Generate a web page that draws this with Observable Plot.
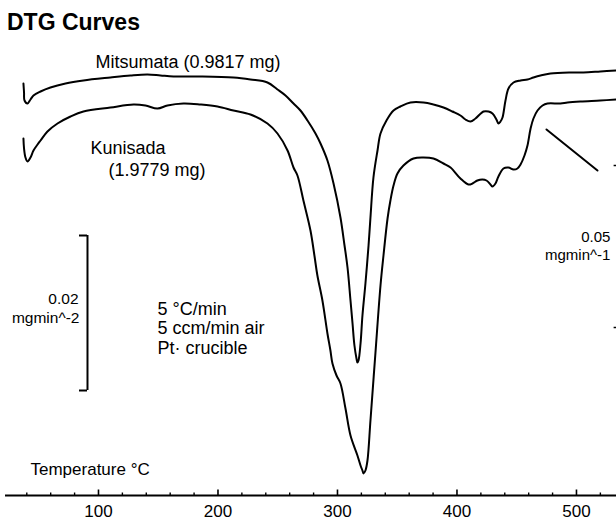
<!DOCTYPE html>
<html>
<head>
<meta charset="utf-8">
<script src="https://cdn.jsdelivr.net/npm/d3@7"></script>
<script src="https://cdn.jsdelivr.net/npm/@observablehq/plot@0.6"></script>
<style>
  html, body { margin: 0; padding: 0; background: #fff; }
  #title {
    height: 38px; box-sizing: border-box; padding: 10.5px 0 0 7px;
    font: bold 23px "Liberation Sans", Arial, sans-serif; line-height: 23px; color: #000;
  }
  #chart svg { display: block; }
</style>
</head>
<body>
<div id="title">DTG Curves</div>
<div id="chart"></div>
<script>
// Temperature (°C) and DTG signal (arbitrary units)
const mitsuT = [37.2,37.7,38.1,40.6,43.1,45.6,51.5,59.8,72.4,87.4,110.0,126.8,141.0,151.9,162.8,185.4,213.0,227.2,241.4,249.8,256.5,263.2,269.0,274.9,281.6,285.8,291.6,296.7,302.5,305.9,308.4,310.9,312.6,314.2,315.9,316.7,317.6,319.3,320.9,323.4,326.0,327.6,330.1,333.5,336.0,341.0,346.9,352.7,361.1,372.0,380.3,388.7,396.2,402.9,407.1,411.3,415.5,422.2,426.4,429.7,433.0,434.7,436.4,438.1,440.6,443.1,447.3,453.2,459.0,464.0,469.9,478.2,495.0,505.8,520.0,533.5];
const mitsuV = [412,403,395,392,396,400,404,408,412,415,418,420,421,420,419,419,418,416,413,406,400,392,385,375,362,352,335,312,278,250,228,195,172,150,137,133,135,152,180,212,250,278,318,345,362,375,385,389,393,393,391,388,384,380,376,374,377,384,384,382,376,372,374,378,395,407,413,415,416,418,420,422,423,423,424,425];

const kuniT = [37.2,37.7,38.9,40.6,43.1,45.6,49.0,51.5,57.3,65.7,76.6,87.4,110.0,129.3,139.3,149.4,157.7,171.1,185.4,199.6,213.0,227.2,241.4,249.8,258.2,263.2,266.5,271.5,277.4,280.7,283.2,287.4,291.6,294.1,295.8,299.2,302.5,306.7,310.9,316.7,319.3,320.9,321.8,323.4,325.1,327.6,331.8,336.0,338.5,341.9,344.3,346.9,350.2,355.2,363.6,372.0,380.3,388.7,394.6,402.9,409.6,413.0,417.1,421.3,424.7,428.0,429.7,432.2,434.7,438.9,443.1,447.3,450.6,453.2,456.5,459.0,461.6,464.0,467.4,471.6,475.7,486.6,492.5,503.3,520.0,533.5];
const kuniV = [357,347,338,334,338,345,351,355,364,372,379,384,388,391,390,387,390,392,391,389,385,381,372,362,345,328,320,295,265,240,220,195,162,145,132,120,112,87,60,40,30,25,22,25,35,75,143,210,240,277,295,310,322,330,337,338,337,332,328,317,311,312,315,316,315,311,309,312,319,327,328,326,327,331,340,350,367,377,385,390,392,392,393,394,395,396];

// Axis ticks (°C)
const majorTicks = [100, 200, 300, 400, 500];
const minorTicks = [40, 60, 80, 120, 140, 160, 180, 220, 240, 260, 280, 320, 340, 360, 380, 420, 440, 460, 480, 520];

// Annotations: text, temperature position, signal position, anchor, size
const noteText   = ["Mitsumata (0.9817 mg)", "Kunisada", "(1.9779 mg)", "0.02", "mgmin^-2", "5 °C/min", "5 ccm/min air", "Pt· crucible", "0.05", "mgmin^-1", "Temperature °C"];
const noteT      = [97.5, 93.3, 108.4, 83.3, 84.1, 149.4, 149.4, 149.4, 528.4, 528.4, 43.1];
const noteV      = [428, 342, 320, 192, 173, 181, 162, 142, 254, 236, 21];
const noteAnchor = ["start", "start", "start", "end", "end", "start", "start", "start", "end", "end", "start"];
const noteSize   = [18, 18, 18, 15.5, 15.5, 18, 18, 18, 15, 15, 17];

// Scale bar (0.02 mgmin^-2) and stray marks at right
const barT = 90.8, barSerifT = 84.1, barLow = 105, barHigh = 260;
const slashT = [474.9, 517.6], slashV = [366, 325];
const edgeMarkV = [330, 168];
const axisStartT = 22.2;

const notes = noteText.map((t, i) => ({t, T: noteT[i], v: noteV[i], a: noteAnchor[i], s: noteSize[i]}));
const notesStart = notes.filter(d => d.a === "start");
const notesEnd = notes.filter(d => d.a === "end");

const chart = Plot.plot({
  width: 616, height: 482,
  marginTop: 0, marginRight: 0, marginBottom: 25, marginLeft: 0,
  x: {domain: [18.0, 533.5], axis: null},
  y: {domain: [0, 457], axis: null},
  style: {fontFamily: '"Liberation Sans", Arial, sans-serif', background: "#fff", color: "#000", overflow: "visible"},
  marks: [
    // x axis line and ticks
    Plot.ruleY([0], {x1: axisStartT, x2: 533.5, stroke: "#000", strokeWidth: 2}),
    Plot.ruleX(majorTicks, {y1: 0, y2: 5.5, stroke: "#000", strokeWidth: 1.6}),
    Plot.ruleX(minorTicks, {y1: 0, y2: 2.5, stroke: "#000", strokeWidth: 1.4}),
    Plot.text(majorTicks, {x: d => d, y: 0, dy: 16, lineAnchor: "middle", fontSize: 17, fill: "#000"}),
    // curves
    Plot.line(mitsuV, {x: mitsuT, y: mitsuV, stroke: "#000", strokeWidth: 2, curve: "catmull-rom"}),
    Plot.line(kuniV, {x: kuniT, y: kuniV, stroke: "#000", strokeWidth: 2, curve: "catmull-rom"}),
    // scale bar
    Plot.ruleX([barT], {y1: barLow, y2: barHigh, stroke: "#000", strokeWidth: 2}),
    Plot.ruleY([barLow, barHigh], {x1: barSerifT, x2: barT, stroke: "#000", strokeWidth: 2}),
    // diagonal stroke and edge marks
    Plot.line(slashV, {x: slashT, y: slashV, stroke: "#000", strokeWidth: 2}),
    Plot.ruleY(edgeMarkV, {x1: 531.5, x2: 533.5, stroke: "#000", strokeWidth: 1.5}),
    // annotations
    Plot.text(notesStart, {x: "T", y: "v", text: "t", textAnchor: "start", fontSize: "s", lineAnchor: "bottom", fill: "#000"}),
    Plot.text(notesEnd, {x: "T", y: "v", text: "t", textAnchor: "end", fontSize: "s", lineAnchor: "bottom", fill: "#000"})
  ]
});
document.getElementById("chart").appendChild(chart);
</script>
</body>
</html>
